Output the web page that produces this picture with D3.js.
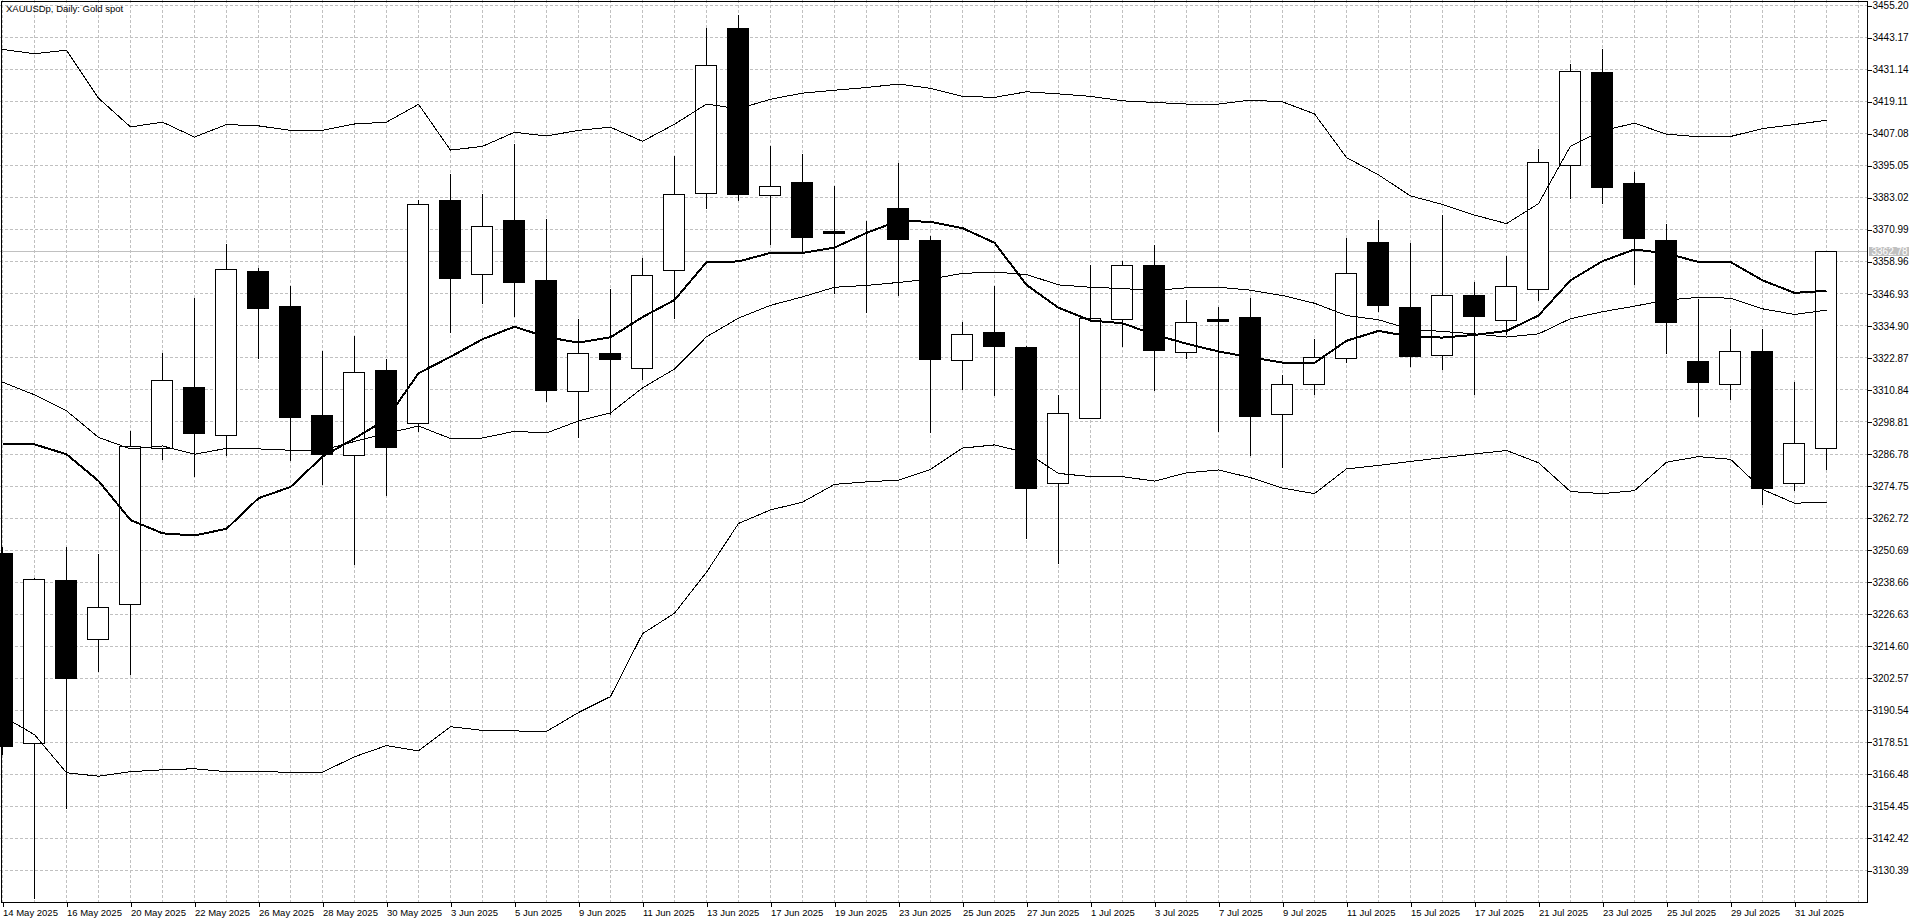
<!DOCTYPE html>
<html>
<head>
<meta charset="utf-8">
<script src="https://cdn.jsdelivr.net/npm/d3@7"></script>
<style>
  body { margin: 0; background: #fff; overflow: hidden; }
  svg { display: block; font-family: "Liberation Sans", Arial, sans-serif; }
</style>
</head>
<body>
<svg width="1920" height="923"></svg>
<script>
// Daily bars, XAUUSDp
const dates = [
  "14 May 2025","15 May 2025","16 May 2025","19 May 2025","20 May 2025","21 May 2025","22 May 2025",
  "23 May 2025","26 May 2025","27 May 2025","28 May 2025","29 May 2025","30 May 2025","2 Jun 2025",
  "3 Jun 2025","4 Jun 2025","5 Jun 2025","6 Jun 2025","9 Jun 2025","10 Jun 2025","11 Jun 2025",
  "12 Jun 2025","13 Jun 2025","16 Jun 2025","17 Jun 2025","18 Jun 2025","19 Jun 2025","20 Jun 2025",
  "23 Jun 2025","24 Jun 2025","25 Jun 2025","26 Jun 2025","27 Jun 2025","30 Jun 2025","1 Jul 2025",
  "2 Jul 2025","3 Jul 2025","4 Jul 2025","7 Jul 2025","8 Jul 2025","9 Jul 2025","10 Jul 2025",
  "11 Jul 2025","14 Jul 2025","15 Jul 2025","16 Jul 2025","17 Jul 2025","18 Jul 2025","21 Jul 2025",
  "22 Jul 2025","23 Jul 2025","24 Jul 2025","25 Jul 2025","28 Jul 2025","29 Jul 2025","30 Jul 2025",
  "31 Jul 2025","1 Aug 2025"
];

const open = [
  3249.6,3178.1,3239.2,3217.3,3230.1,3288.9,3311.6,3293.9,3355.2,3342.2,3301.2,3286.3,3318.1,3298.2,
  3381.9,3354.3,3374.6,3352.0,3310.3,3324.5,3319.0,3355.8,3384.7,3446.6,3384.0,3388.8,3370.4,3368.7,
  3378.8,3367.1,3322.0,3332.5,3326.9,3275.8,3300.2,3337.4,3357.4,3325.0,3337.2,3338.2,3301.7,3313.0,
  3322.5,3366.1,3341.7,3323.8,3346.4,3337.1,3348.7,3395.2,3430.0,3388.2,3367.0,3321.5,3312.9,3325.3,
  3275.6,3289.0
];
const high = [
  3252.0,3240.5,3252.2,3249.4,3295.6,3324.9,3345.5,3365.8,3357.0,3350.0,3325.5,3331.4,3322.7,3382.3,
  3392.1,3384.5,3403.5,3375.3,3337.8,3348.8,3360.4,3398.9,3446.8,3451.8,3402.8,3399.6,3387.5,3374.6,
  3396.2,3368.9,3336.6,3349.9,3327.6,3309.3,3357.8,3359.5,3365.4,3344.8,3342.0,3345.4,3316.5,3330.0,
  3368.2,3374.8,3366.1,3376.9,3351.7,3361.4,3401.4,3433.6,3439.1,3393.0,3373.2,3345.0,3334.1,3333.8,
  3314.1,3363.3
];
const low = [
  3174.0,3120.0,3153.6,3205.0,3203.9,3284.8,3278.3,3286.3,3322.7,3284.3,3275.4,3245.3,3271.1,3295.4,
  3332.4,3343.3,3338.4,3306.4,3293.0,3301.8,3314.6,3337.7,3379.0,3381.9,3365.3,3362.5,3347.1,3340.0,
  3346.4,3294.9,3311.0,3308.9,3255.0,3245.8,3300.0,3327.1,3310.7,3322.8,3295.3,3286.4,3281.8,3309.3,
  3321.1,3340.2,3319.7,3318.7,3309.3,3331.6,3344.4,3382.8,3380.8,3350.6,3324.4,3300.7,3307.1,3267.7,
  3272.9,3280.8
];
const close = [
  3177.0,3239.7,3202.4,3229.3,3289.5,3314.5,3294.3,3356.1,3341.6,3300.4,3286.5,3317.5,3289.1,3380.6,
  3352.8,3372.3,3351.2,3310.7,3324.5,3322.2,3353.8,3384.3,3432.8,3384.3,3387.4,3368.2,3369.6,3368.7,
  3367.5,3322.2,3331.7,3327.1,3273.8,3302.0,3337.8,3357.4,3325.6,3336.2,3336.4,3300.8,3312.9,3323.1,
  3354.6,3342.4,3323.4,3346.4,3338.4,3349.7,3396.4,3430.6,3386.9,3367.7,3336.2,3313.6,3325.3,3274.0,
  3290.7,3362.78
];

// Bollinger bands
const bbUpper = [
  3438.7,3437.1,3438.4,3420.4,3409.6,3411.4,3405.8,3410.5,3410.0,3408.3,3408.3,3410.7,3411.4,3418.1,
  3400.9,3402.3,3407.6,3406.2,3408.3,3409.5,3404.2,3410.6,3418.2,3416.4,3420.0,3422.3,3423.4,3424.4,
  3425.7,3424.1,3421.1,3420.7,3422.8,3422.0,3421.1,3419.4,3418.8,3418.2,3418.2,3419.7,3419.0,3414.5,
  3398.1,3391.6,3383.7,3380.5,3376.5,3373.3,3380.8,3402.4,3408.2,3411.0,3406.9,3405.9,3406.0,3409.0,
  3410.5,3412.1
];
const bbMiddle = [
  3313.8,3309.0,3303.0,3293.0,3288.7,3289.8,3286.7,3288.9,3288.7,3288.2,3288.2,3291.5,3294.5,3297.3,
  3292.6,3292.8,3295.3,3294.7,3299.2,3302.2,3311.6,3318.7,3330.8,3337.8,3342.6,3345.8,3349.4,3350.1,
  3351.2,3352.5,3354.6,3355.1,3354.2,3350.3,3349.4,3348.9,3348.2,3349.2,3349.4,3348.3,3346.3,3343.4,
  3338.8,3337.2,3333.6,3332.8,3331.9,3330.7,3331.9,3337.6,3340.2,3342.3,3344.6,3345.6,3345.3,3341.3,
  3339.2,3340.8
];
const bbLower = [
  3188.3,3181.4,3167.1,3165.8,3167.5,3168.2,3168.6,3167.5,3167.5,3167.3,3167.3,3173.1,3177.3,3175.3,
  3184.4,3183.0,3182.8,3182.6,3189.7,3195.7,3219.3,3227.0,3242.4,3260.7,3265.8,3268.7,3275.4,3276.3,
  3277.0,3281.0,3289.0,3290.2,3287.3,3279.5,3278.3,3278.3,3276.6,3279.7,3280.8,3277.9,3274.0,3271.9,
  3281.2,3282.5,3284.0,3285.4,3286.8,3288.1,3283.5,3272.7,3271.9,3273.0,3283.7,3285.8,3284.8,3273.5,
  3268.3,3268.7
];
// moving average (thick line)
const ma = [
  3290.4,3290.4,3286.7,3276.7,3262.0,3257.0,3256.2,3258.7,3270.2,3274.4,3285.8,3292.6,3299.9,3317.1,
  3323.3,3329.9,3334.6,3330.7,3328.6,3330.6,3338.2,3344.6,3358.8,3359.1,3362.3,3362.3,3364.3,3369.8,
  3374.3,3374.0,3371.6,3366.1,3350.3,3341.7,3336.9,3335.9,3331.6,3328.2,3325.3,3323.1,3321.1,3321.0,
  3329.3,3333.0,3330.9,3330.5,3331.5,3333.0,3338.8,3352.0,3359.2,3363.6,3362.1,3358.9,3358.9,3352.0,
  3347.3,3348.1
];

// price scale ticks
const priceTicks = [
  3455.20,3443.17,3431.14,3419.11,3407.08,3395.05,3383.02,3370.99,3358.96,3346.93,3334.90,3322.87,
  3310.84,3298.81,3286.78,3274.75,3262.72,3250.69,3238.66,3226.63,3214.60,3202.57,3190.54,3178.51,
  3166.48,3154.45,3142.42,3130.39
];
const lastPrice = 3362.78;
const title = "XAUUSDp, Daily:  Gold spot";

const svg = d3.select("svg");
const plotRight = 1867.5;
const plotBottom = 902.5;

// 32 px per bar
const x = d3.scaleLinear().domain([0, 1]).range([2.5, 34.5]);
const y = d3.scaleLinear().domain([3130.39, 3455.20]).range([870.5, 5.5]);
const snap = v => Math.round(v - 0.5) + 0.5;

svg.append("defs").append("clipPath").attr("id", "plot")
  .append("rect").attr("x", 0).attr("y", 0).attr("width", plotRight).attr("height", plotBottom);

const g = svg.append("g").attr("clip-path", "url(#plot)");

// grid
const grid = g.append("g")
  .attr("stroke", "#c0c0c0")
  .attr("stroke-dasharray", "3,2")
  .attr("shape-rendering", "crispEdges");
grid.selectAll("line.h")
  .data(priceTicks)
  .join("line")
  .attr("class", "h")
  .attr("x1", 0).attr("x2", plotRight)
  .attr("y1", d => snap(y(d))).attr("y2", d => snap(y(d)));
grid.selectAll("line.v")
  .data(d3.range(0, dates.length + 1))
  .join("line")
  .attr("class", "v")
  .attr("x1", d => x(d)).attr("x2", d => x(d))
  .attr("y1", 0).attr("y2", plotBottom);

// bid line
g.append("line")
  .attr("x1", 0).attr("x2", plotRight)
  .attr("y1", snap(y(lastPrice))).attr("y2", snap(y(lastPrice)))
  .attr("stroke", "#c0c0c0")
  .attr("shape-rendering", "crispEdges");

// candles
const bars = dates.map((d, i) => ({i, o: open[i], h: high[i], l: low[i], c: close[i]}));
const candle = g.append("g").attr("shape-rendering", "crispEdges");

candle.selectAll("line.wick")
  .data(bars)
  .join("line")
  .attr("class", "wick")
  .attr("x1", d => x(d.i)).attr("x2", d => x(d.i))
  .attr("y1", d => snap(y(d.h))).attr("y2", d => snap(y(d.l)) + 0.5)
  .attr("stroke", "#000");

candle.selectAll("rect.body")
  .data(bars)
  .join("rect")
  .attr("class", "body")
  .attr("x", d => x(d.i) - 11)
  .attr("width", 21)
  .attr("y", d => snap(y(Math.max(d.o, d.c))))
  .attr("height", d => snap(y(Math.min(d.o, d.c))) - snap(y(Math.max(d.o, d.c))))
  .attr("fill", d => d.c >= d.o ? "#fff" : "#000")
  .attr("stroke", "#000");

// indicator lines
const line = arr => d3.line().x((d, i) => x(i)).y(d => y(d))(arr);
const lines = g.append("g")
  .attr("fill", "none")
  .attr("stroke", "#000")
  .attr("shape-rendering", "crispEdges");
[bbUpper, bbMiddle, bbLower].forEach(arr => {
  lines.append("path").attr("d", line(arr)).attr("stroke-width", 1);
});
lines.append("path").attr("d", line(ma)).attr("stroke-width", 2);

// frame
svg.append("path")
  .attr("d", `M1.5,${plotBottom}V1.5H${plotRight}V${plotBottom}H1.5`)
  .attr("fill", "none")
  .attr("stroke", "#000")
  .attr("shape-rendering", "crispEdges");

// price axis
const yAxis = svg.append("g")
  .attr("transform", `translate(${plotRight},0)`)
  .call(d3.axisRight(y).tickValues(priceTicks).tickSize(4).tickPadding(1).tickFormat(d3.format(".2f")));
yAxis.select(".domain").remove();
yAxis.selectAll("line").attr("stroke", "#000").attr("shape-rendering", "crispEdges");
yAxis.selectAll("text").attr("fill", "#000").attr("font-size", "10px")
  .attr("font-family", "Liberation Sans, Arial, sans-serif");

// time axis
const xAxis = svg.append("g")
  .attr("transform", `translate(0,${plotBottom})`)
  .call(d3.axisBottom(x).tickValues(d3.range(0, dates.length - 1, 2)).tickSize(4).tickPadding(3)
    .tickFormat(i => dates[i]));
xAxis.select(".domain").remove();
xAxis.selectAll("line").attr("stroke", "#000").attr("shape-rendering", "crispEdges");
xAxis.selectAll("text").attr("fill", "#000").attr("font-size", "9.5px")
  .attr("text-anchor", "start")
  .attr("font-family", "Liberation Sans, Arial, sans-serif");

// last price marker
const ly = snap(y(lastPrice));
svg.append("rect")
  .attr("x", plotRight + 1.5).attr("y", ly - 4.5)
  .attr("width", 40).attr("height", 9)
  .attr("fill", "#c0c0c0");
svg.append("text")
  .attr("x", plotRight + 4).attr("y", ly)
  .attr("dy", "0.35em")
  .attr("fill", "#fff")
  .attr("font-size", "10px")
  .text(lastPrice.toFixed(2));

// title
svg.append("text")
  .attr("x", 6).attr("y", 12)
  .attr("fill", "#000")
  .attr("font-size", "9.5px")
  .text(title);
</script>
</body>
</html>
